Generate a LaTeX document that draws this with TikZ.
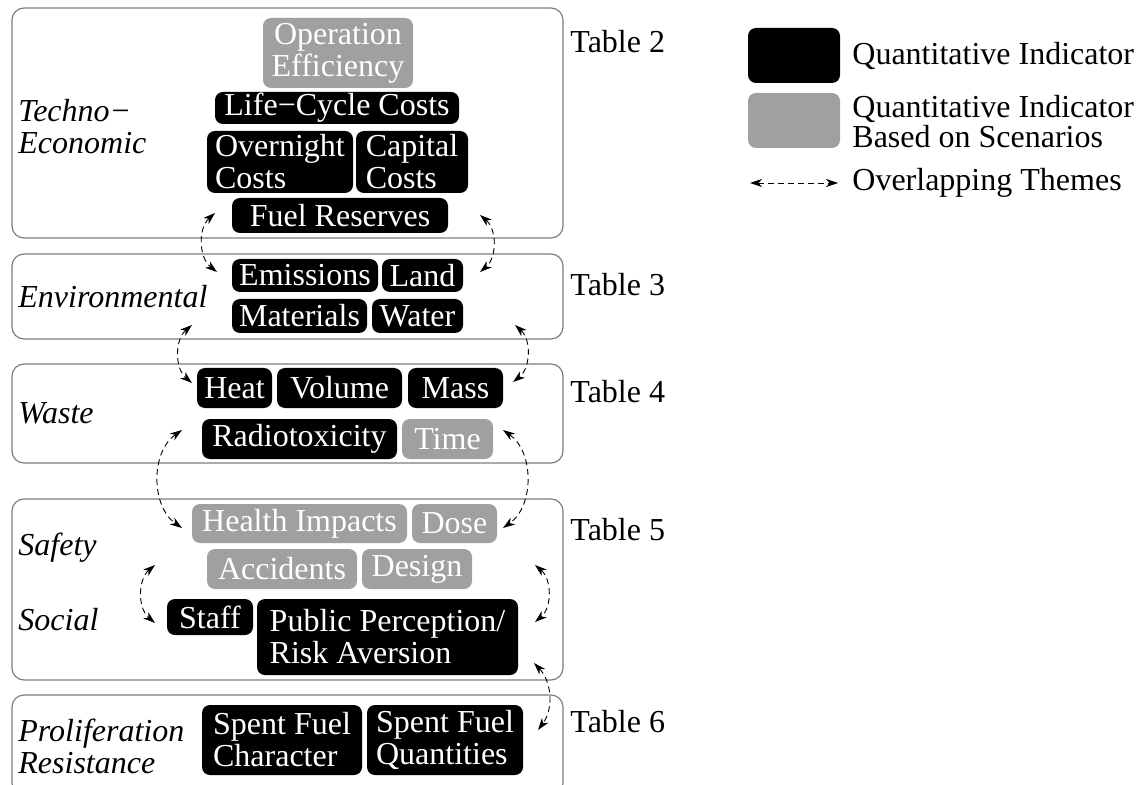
\documentclass[tikz,border=0pt]{standalone}
\usepackage{fontspec}
\setmainfont{Liberation Serif}
\usetikzlibrary{positioning,arrows.meta}
\definecolor{scengray}{RGB}{160,160,160}
\definecolor{framegray}{RGB}{125,125,125}

\begin{document}
\begin{tikzpicture}[x=5pt,y=5pt,>={Stealth[length=6pt,width=4pt,inset=1.8pt]}]
		\tikzstyle{every node}+=[inner sep=0pt, font=\fontsize{16}{16}\selectfont]
		\tikzstyle{theme}=[draw=framegray, line width=0.6pt, rounded corners=6pt]
		\tikzstyle{quant}=[fill=black, text=white, rounded corners=4pt, align=center]
		\tikzstyle{scen}=[fill=scengray, text=white, rounded corners=4pt, align=center]
		\tikzstyle{cat}=[anchor=west, align=left, font=\fontsize{16}{16}\selectfont\itshape]
		\tikzstyle{tab}=[anchor=west]
		\tikzstyle{overlap}=[<->, dash pattern=on 3pt off 2pt, line width=0.45pt]
		\useasboundingbox (0,0) rectangle (114.3,-78.5);
		% theme frames
		\node [theme, minimum width=275.5pt, minimum height=115pt] (techno) at (28.75,-12.3) {};
		\node [theme, minimum width=275.5pt, minimum height=42.5pt] (enviro) at (28.75,-29.65) {};
		\node [theme, minimum width=275.5pt, minimum height=49.5pt] (waste) at (28.75,-41.35) {};
		\node [theme, minimum width=275.5pt, minimum height=90.5pt] (safety) at (28.75,-58.95) {};
		\node [theme, minimum width=275.5pt, minimum height=50pt] (prolif) at (28.75,-74.5) {};
		% theme names
		\node [cat] (technoname) at (1.8,-12.7) {Techno−\\Economic};
		\node [cat] (environame) at (1.8,-29.7) {Environmental};
		\node [cat] (wastename) at (1.8,-41.3) {Waste};
		\node [cat] (safetyname) at (1.8,-54.8) {Safety};
		\node [cat] (socialname) at (1.8,-62) {Social};
		\node [cat] (prolifname) at (1.8,-74.6) {Proliferation\\Resistance};
		% tables
		\node [tab] (tabtwo) at (57,-4.2) {Table 2};
		\node [tab] (tabthree) at (57,-28.5) {Table 3};
		\node [tab] (tabfour) at (57,-39.2) {Table 4};
		\node [tab] (tabfive) at (57,-53) {Table 5};
		\node [tab] (tabsix) at (57,-72.2) {Table 6};
		% techno-economic
		\node [scen, minimum width=75pt, minimum height=35pt] (opeff) at (33.8,-5.3) {Operation\\Efficiency};
		\node [quant, minimum width=122pt, minimum height=16pt] (lcc) at (33.7,-10.8) {Life−Cycle Costs};
		\node [quant, minimum width=73pt, minimum height=31pt, align=left] (overnight) at (28,-16.2) {Overnight\\Costs};
		\node [quant, minimum width=56pt, minimum height=31pt, align=left] (capital) at (41.2,-16.2) {Capital\\Costs};
		\node [quant, minimum width=108pt, minimum height=17.5pt] (fuelres) at (34,-21.55) {Fuel Reserves};
		% environmental
		\node [quant, minimum width=73pt, minimum height=16.5pt] (emis) at (30.5,-27.55) {Emissions};
		\node [quant, minimum width=40.5pt, minimum height=16.5pt] (land) at (42.25,-27.55) {Land};
		\node [quant, minimum width=67.5pt, minimum height=17pt] (mater) at (29.95,-31.6) {Materials};
		\node [quant, minimum width=45.5pt, minimum height=17pt] (water) at (41.75,-31.6) {Water};
		% waste
		\node [quant, minimum width=37.5pt, minimum height=20pt] (heat) at (23.45,-38.8) {Heat};
		\node [quant, minimum width=62.5pt, minimum height=20pt] (volume) at (33.95,-38.8) {Volume};
		\node [quant, minimum width=47.5pt, minimum height=20pt] (mass) at (45.55,-38.8) {Mass};
		\node [quant, minimum width=97.5pt, minimum height=20pt] (radio) at (29.95,-43.9) {Radiotoxicity};
		\node [scen, minimum width=45.5pt, minimum height=20pt] (time) at (44.75,-43.9) {Time};
		% safety and social
		\node [scen, minimum width=107.5pt, minimum height=19.5pt] (health) at (29.95,-52.35) {Health Impacts};
		\node [scen, minimum width=42.5pt, minimum height=19.5pt] (dose) at (45.45,-52.35) {Dose};
		\node [scen, minimum width=75pt, minimum height=20pt] (accid) at (28.2,-56.9) {Accidents};
		\node [scen, minimum width=55pt, minimum height=20pt] (design) at (41.7,-56.9) {Design};
		\node [quant, minimum width=43pt, minimum height=18pt] (staff) at (21,-61.7) {Staff};
		\node [quant, minimum width=130.5pt, minimum height=38pt, align=left] (public) at (38.75,-63.7) {Public Perception/\\Risk Aversion};
		% proliferation
		\node [quant, minimum width=80pt, minimum height=35pt, align=left] (sfchar) at (28.2,-74) {Spent Fuel\\Character};
		\node [quant, minimum width=78pt, minimum height=35pt, align=left] (sfquant) at (44.5,-74) {Spent Fuel\\Quantities};
		% legend
		\node [quant, minimum width=46pt, minimum height=27.5pt] (legquant) at (79.4,-5.55) {};
		\node [scen, minimum width=46pt, minimum height=27.5pt] (legscen) at (79.4,-12.05) {};
		\node [tab] (legquanttext) at (85.2,-5.6) {Quantitative Indicator};
		\node [tab, align=left, font=\fontsize{16}{15}\selectfont] (legscentext) at (85.2,-12.2) {Quantitative Indicator\\Based on Scenarios};
		\node [tab] (legovertext) at (85.2,-18.3) {Overlapping Themes};
		\coordinate (legarrowa) at (75,-18.3);
		\coordinate (legarrowb) at (83.8,-18.3);
		\draw [overlap] (legarrowa) -- (legarrowb);
		% overlapping themes
		\coordinate (ta) at (21.5,-21.3);
		\coordinate (tb) at (21.7,-27.2);
		\coordinate (tc) at (48,-21.5);
		\coordinate (td) at (48,-27.2);
		\coordinate (ea) at (19.2,-32.5);
		\coordinate (eb) at (19.2,-38.3);
		\coordinate (ec) at (51.5,-32.5);
		\coordinate (ed) at (51.3,-38.2);
		\coordinate (wa) at (18.2,-43);
		\coordinate (wb) at (18.2,-52.8);
		\coordinate (wc) at (50.3,-43);
		\coordinate (wd) at (50.3,-52.8);
		\coordinate (sa) at (15.5,-56.5);
		\coordinate (sb) at (15.5,-62.3);
		\coordinate (sc) at (53.5,-56.5);
		\coordinate (sd) at (53.5,-62.2);
		\coordinate (pa) at (53.4,-66.3);
		\coordinate (pb) at (53.8,-73);
		\draw [overlap] (ta) to [bend right=50] (tb);
		\draw [overlap] (tc) to [bend left=50] (td);
		\draw [overlap] (ea) to [bend right=50] (eb);
		\draw [overlap] (ec) to [bend left=50] (ed);
		\draw [overlap] (wa) to [bend right=55] (wb);
		\draw [overlap] (wc) to [bend left=55] (wd);
		\draw [overlap] (sa) to [bend right=50] (sb);
		\draw [overlap] (sc) to [bend left=50] (sd);
		\draw [overlap] (pa) to [bend left=40] (pb);
\end{tikzpicture}
\end{document}
